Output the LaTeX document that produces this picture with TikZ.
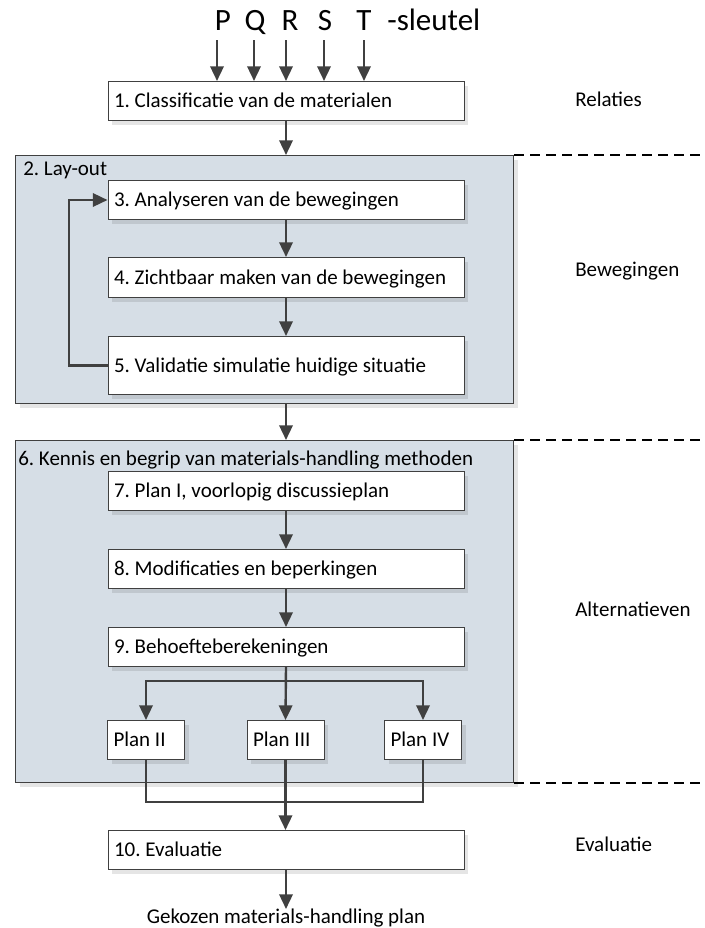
\documentclass[tikz,border=0pt]{standalone}
\usepackage{fontspec}
\setmainfont{Carlito}
\usetikzlibrary{arrows.meta,shadows}
\definecolor{ink}{RGB}{64,64,64}
\definecolor{panel}{RGB}{214,222,230}
\newcommand{\diagfont}{\fontsize{15.75}{19}\selectfont}
\newcommand{\keyfont}{\fontsize{23.25}{28}\selectfont}
\frenchspacing
\begin{document}
\begin{tikzpicture}[x=0.75pt,y=-0.75pt,font=\diagfont,
  arr/.style={draw=ink, line width=1.8pt, line join=miter, -{Triangle[length=11pt,width=10pt]}},
  link/.style={draw=ink, line width=1.8pt, line join=miter},
  softshadow/.style={general shadow={fill=black, opacity=0.1, shadow xshift=3pt, shadow yshift=-3pt}},
  stepbox/.style={draw=ink, fill=white, line width=0.75pt, anchor=north west, align=flush left,
    inner xsep=4.5pt, inner ysep=0pt, text height=11.6pt, text depth=1.5pt,
    minimum height=29.25pt, text width=258pt, softshadow},
  planbox/.style={stepbox, text width=48.75pt},
  panelbox/.style={draw=ink, fill=panel, line width=0.75pt, anchor=north west,
    minimum width=373.5pt, inner sep=0pt, softshadow},
  dashline/.style={draw=black, line width=1.1pt, dash pattern=on 7.5pt off 4.5pt},
  sidelabel/.style={anchor=base west, inner sep=0pt},
  keyletter/.style={anchor=base, inner sep=0pt, font=\keyfont}]

\useasboundingbox (0,0) rectangle (705,928);

% group panels
\node[panelbox, minimum height=186pt] (lay) at (15,155) {};
\node[panelbox, minimum height=256.5pt] (ken) at (15,440) {};
\node[sidelabel] (laylbl) at (23,175) {2. Lay-out};
\node[sidelabel] (kenlbl) at (18,465) {6. Kennis en begrip van materials-handling methoden};

% key letters
\node[keyletter] (kP) at (223,31) {P};
\node[keyletter] (kQ) at (255,31) {Q};
\node[keyletter] (kR) at (290,31) {R};
\node[keyletter] (kS) at (325,31) {S};
\node[keyletter] (kT) at (364,31) {T};
\node[keyletter, anchor=base west] (kSl) at (387,31) {-sleutel};

% process steps
\node[stepbox] (b1) at (107.5,81) {1. Classificatie van de materialen};
\node[stepbox] (b3) at (107.5,180) {3. Analyseren van de bewegingen};
\node[stepbox, minimum height=30pt] (b4) at (107.5,257) {4. Zichtbaar maken van de bewegingen};
\node[stepbox, minimum height=43.5pt] (b5) at (107.5,336) {5. Validatie simulatie huidige situatie};
\node[stepbox] (b7) at (107.5,471) {7. Plan I, voorlopig discussieplan};
\node[stepbox] (b8) at (107.5,549) {8. Modificaties en beperkingen};
\node[stepbox] (b9) at (107.5,627) {9. Behoefteberekeningen};
\node[planbox] (p2) at (107,720) {Plan II};
\node[planbox] (p3) at (246.5,720) {Plan III};
\node[planbox] (p4) at (384,720) {Plan IV};
\node[stepbox] (b10) at (107.5,830) {10. Evaluatie};

% phase labels
\node[sidelabel] (lRel) at (575,106) {Relaties};
\node[sidelabel] (lBew) at (575,276) {Bewegingen};
\node[sidelabel] (lAlt) at (575,616) {Alternatieven};
\node[sidelabel] (lEva) at (575,851) {Evaluatie};

% phase separators
\coordinate (rim) at (705,0);
\draw[dashline] (lay.north east) -- (lay.north east -| rim);
\draw[dashline] (ken.north east) -- (ken.north east -| rim);
\draw[dashline] (ken.south east) -- (ken.south east -| rim);

% key inputs
\coordinate (aP) at (217,40);
\coordinate (aQ) at (254,40);
\coordinate (aR) at (286,40);
\coordinate (aS) at (324,40);
\coordinate (aT) at (364,40);
\foreach \k in {aP,aQ,aR,aS,aT}
  \draw[arr] (\k) -- (\k |- b1.north);

% main flow
\draw[arr] (b1.south) -- (b1.south |- lay.north);
\draw[arr] (b3.south) -- (b4.north);
\draw[arr] (b4.south) -- (b5.north);
\coordinate (loop) at (69,0);
\draw[arr] (b5.west) -- (b5.west -| loop) |- (b3.west);
\draw[arr] (b5.south |- lay.south) -- (b5.south |- ken.north);
\draw[arr] (b7.south) -- (b8.north);
\draw[arr] (b8.south) -- (b9.north);

% split into the plans
\coordinate (split) at (0,681);
\draw[arr] (b9.south |- split) -| (p2.north);
\draw[arr] (b9.south |- split) -| (p4.north);
\draw[arr] (b9.south) -- (p3.north);

% join towards the evaluation
\coordinate (join) at (285,802);
\draw[link] (p2.south) |- (join) -| (p4.south);
\draw[arr] (p3.south) -- (p3.south |- b10.north);

% outcome
\path (b10.south) ++(0,39) coordinate (outtop);
\node[anchor=north, inner sep=0pt] (out) at (outtop) {Gekozen materials-handling plan};
\draw[arr] (b10.south) -- (out.north);
\end{tikzpicture}
\end{document}
